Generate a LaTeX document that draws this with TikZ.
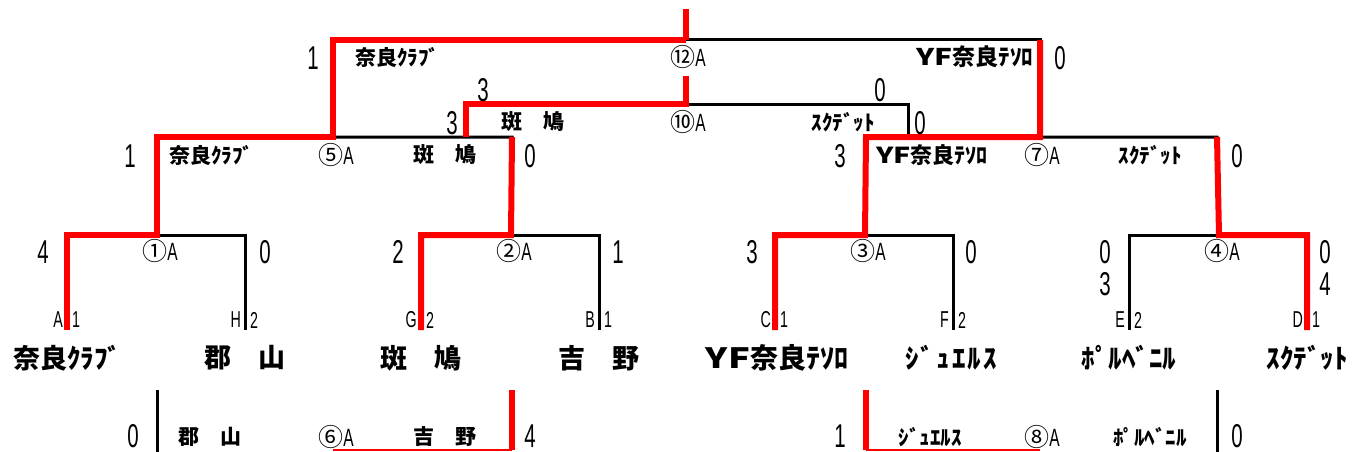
\documentclass[tikz,border=0pt]{standalone}
\usepackage{fontspec}
\newfontfamily\jp{Noto Sans CJK JP}
\newfontfamily\num{Liberation Sans}[FakeStretch=0.62]
\newcommand\gA{{\num\fontsize{25}{25}\selectfont A}}
\newcommand\YF{\scalebox{1.3}[1]{YF}}

\begin{document}
\begin{tikzpicture}[x=1pt,y=-1pt,
bline/.style={draw=black,line width=3pt},
win/.style={draw=red,line width=6pt},
winthin/.style={draw=red,line width=2pt},
score/.style={font=\num\fontsize{33}{33}\selectfont,inner sep=0pt},
seed/.style={font=\num\fontsize{23}{23}\selectfont,inner sep=0pt},
game/.style={font=\jp\fontsize{25}{25}\selectfont,inner sep=0pt},
club/.style={font=\jp\bfseries\fontsize{21}{21}\selectfont,inner sep=0pt},
team/.style={font=\jp\bfseries\fontsize{27}{27}\selectfont,inner sep=0pt}]
\useasboundingbox (0,0) rectangle (1355,452);

% first round
\foreach \i/\x/\c/\sl/\nl/\sr/\nr in {1/67/①/A/1/H/2, 2/421/②/G/2/B/1,
    3/775/③/C/1/F/2, 4/1129/④/E/2/D/1}{
  \coordinate (m\i l) at (\x,235);
  \coordinate (m\i r) at (\x+178,235);
  \coordinate (m\i) at (\x+90,235);
  \coordinate (b\i l) at (\x,330);
  \coordinate (b\i r) at (\x+178,330);
  \draw[bline] (b\i l) -- (m\i l) -- (m\i r) -- (b\i r);
  \node[game] (g\i) at (\x+93,251) {\c\gA};
  \node[seed,anchor=east] (s\i l) at (\x-4,320) {\sl};
  \node[seed,anchor=west] (n\i l) at (\x+5,320) {\nl};
  \node[seed,anchor=east] (s\i r) at (\x+174,320) {\sr};
  \node[seed,anchor=west] (n\i r) at (\x+183,320) {\nr};
}

% second round
\coordinate (m5l) at (157,137);
\coordinate (m5) at (333,137);
\coordinate (m5r) at (512,137);
\coordinate (m7l) at (866,137);
\coordinate (m7) at (1040,137);
\coordinate (m7r) at (1217,137);
\draw[bline] (m1) -- (m5l) -- (m5r) -- (m2);
\draw[bline] (m3) -- (m7l) -- (m7r) -- (m4);

% semi / final
\coordinate (m10l) at (466,104);
\coordinate (m10) at (686,104);
\coordinate (m10r) at (908,104);
\coordinate (m10up) at (686,76);
\coordinate (m12l) at (333,40);
\coordinate (m12) at (686,40);
\coordinate (m12r) at (1040,40);
\coordinate (top) at (686,9);
\draw[bline] (m10l |- m5) -- (m10l) -- (m10r) -- (m10r |- m7);
\draw[bline] (m5) -- (m12l) -- (m12r) -- (m7);

% lower games
\coordinate (m6l) at (157,390);
\coordinate (m6r) at (512,390);
\coordinate (m6b) at (512,450);
\coordinate (m6e) at (333,450);
\coordinate (m8l) at (866,390);
\coordinate (m8b) at (866,450);
\coordinate (m8e) at (1040,450);
\coordinate (m8r) at (1217,390);
\draw[bline] (m6l) -- ++(0,62);
\draw[bline] (m8r) -- ++(0,62);

% winners
\draw[win] (top) -- (m12);
\draw[win] (m12) -- (m12l) -- (m5) -- (m5l) -- (m1) -- (m1l) -- (b1l);
\draw[win] (m12r) -- (m7) -- (m7l) -- (m3) -- (m3l) -- (b3l);
\draw[win] (m10up) -- (m10) -- (m10l) -- (m10l |- m5);
\draw[win] (m5r) -- (m2) -- (m2l) -- (b2l);
\draw[win] (m7r) -- (m4) -- (m4r) -- (b4r);
\draw[win] (m6r) -- (m6b);
\draw[winthin] (m6b) -- (m6e);
\draw[win] (m8l) -- (m8b);
\draw[winthin] (m8b) -- (m8e);

% scores, first round
\node[score] (p1l) at (43,252) {4};
\node[score] (p1r) at (265,252) {0};
\node[score] (p2l) at (398,252) {2};
\node[score] (p2r) at (618,252) {1};
\node[score] (p3l) at (752,252) {3};
\node[score] (p3r) at (971,252) {0};
\node[score] (p4l) at (1105,252) {0};
\node[score] (q4l) at (1105,284) {3};
\node[score] (p4r) at (1325,252) {0};
\node[score] (q4r) at (1325,284) {4};

% teams
\node[team] (t1) at (67,358) {奈良ｸﾗﾌﾞ};
\node[team] (t2) at (245,358) {郡　山};
\node[team] (t3) at (421,358) {斑　鳩};
\node[team] (t4) at (599,358) {吉　野};
\node[team,font=\jp\bfseries\fontsize{28}{28}\selectfont] (t5) at (777,358) {\YF 奈良ﾃｿﾛ};
\node[team] (t6) at (951,358) {\addfontfeature{LetterSpace=8}ｼﾞｭｴﾙｽ};
\node[team] (t7) at (1129,358) {ﾎﾟﾙﾍﾞﾆﾙ};
\node[team] (t8) at (1307,358) {ｽｸﾃﾞｯﾄ};

% second round labels
\node[score] (p5l) at (130,156) {1};
\node[club] (c5l) at (211,155) {奈良ｸﾗﾌﾞ};
\node[game] (g5) at (336,155) {⑤\gA};
\node[club] (c5r) at (445,155) {斑　鳩};
\node[score] (p5r) at (530,156) {0};
\node[score] (p7l) at (840,156) {3};
\node[club,font=\jp\bfseries\fontsize{22}{22}\selectfont] (c7l) at (932,155) {\YF 奈良ﾃｿﾛ};
\node[game] (g7) at (1042,155) {⑦\gA};
\node[club] (c7r) at (1150,155) {ｽｸﾃﾞｯﾄ};
\node[score] (p7r) at (1237,156) {0};

% game 10
\node[score] (p10a) at (483,90) {3};
\node[score] (p10b) at (880,90) {0};
\node[score] (p10l) at (452,123) {3};
\node[club] (c10l) at (533,122) {斑　鳩};
\node[game] (g10) at (688,122) {⑩\gA};
\node[club] (c10r) at (843,122) {ｽｸﾃﾞｯﾄ};
\node[score] (p10r) at (920,123) {0};

% game 12
\node[score] (p12l) at (313,58) {1};
\node[club] (c12l) at (397,57) {奈良ｸﾗﾌﾞ};
\node[game] (g12) at (688,57) {⑫\gA};
\node[club,font=\jp\bfseries\fontsize{23}{23}\selectfont] (c12r) at (975,57) {\YF 奈良ﾃｿﾛ};
\node[score] (p12r) at (1060,58) {0};

% games 6 and 8
\node[score] (p6l) at (133,436) {0};
\node[club] (c6l) at (210,437) {郡　山};
\node[game] (g6) at (336,437) {⑥\gA};
\node[club] (c6r) at (445,437) {吉　野};
\node[score] (p6r) at (530,436) {4};
\node[score] (p8l) at (840,436) {1};
\node[club] (c8l) at (930,437) {ｼﾞｭｴﾙｽ};
\node[game] (g8) at (1042,437) {⑧\gA};
\node[club] (c8r) at (1150,437) {ﾎﾟﾙﾍﾞﾆﾙ};
\node[score] (p8r) at (1237,436) {0};
\end{tikzpicture}
\end{document}
